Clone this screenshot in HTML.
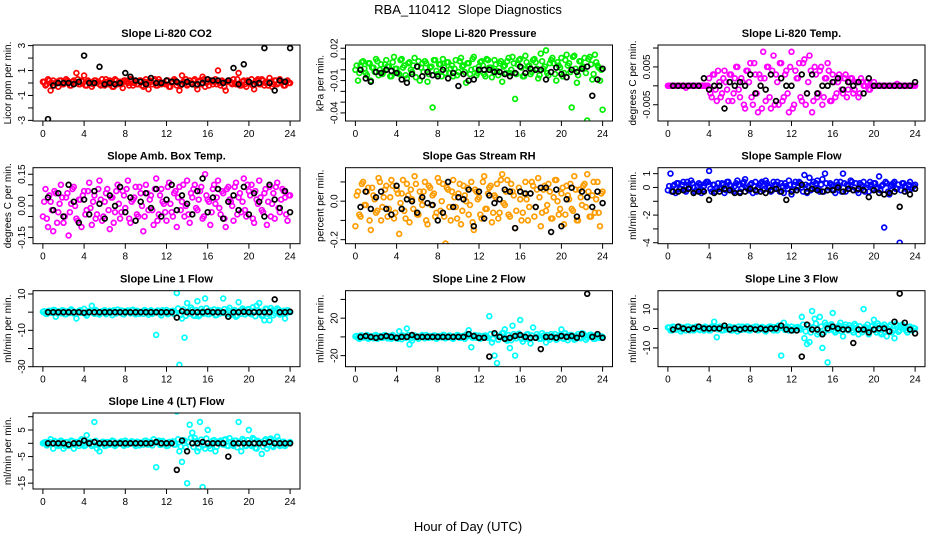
<!DOCTYPE html>
<html><head><meta charset="utf-8"><title>RBA_110412 Slope Diagnostics</title>
<style>
html,body{margin:0;padding:0;background:#fff;}
svg{display:block;font-family:"Liberation Sans",Arial,sans-serif;}
</style></head>
<body>
<svg id="chart" width="936" height="540" viewBox="0 0 936 540">
<text x="468" y="14" text-anchor="middle" font-size="13" xml:space="preserve">RBA_110412  Slope Diagnostics</text>
<text x="468" y="531" text-anchor="middle" font-size="13">Hour of Day (UTC)</text>
</svg>
<script>
const hoursC = [0,0.25,0.5,0.75,1,1.25,1.5,1.75,2,2.25,2.5,2.75,3,3.25,3.5,3.75,4,4.25,4.5,4.75,5,5.25,5.5,5.75,6,6.25,6.5,6.75,7,7.25,7.5,7.75,8,8.25,8.5,8.75,9,9.25,9.5,9.75,10,10.25,10.5,10.75,11,11.25,11.5,11.75,12,12.25,12.5,12.75,13,13.25,13.5,13.75,14,14.25,14.5,14.75,15,15.25,15.5,15.75,16,16.25,16.5,16.75,17,17.25,17.5,17.75,18,18.25,18.5,18.75,19,19.25,19.5,19.75,20,20.25,20.5,20.75,21,21.25,21.5,21.75,22,22.25,22.5,22.75,23,23.25,23.5,23.75,24];
const hoursC2 = [0.125,0.375,0.625,0.875,1.125,1.375,1.625,1.875,2.125,2.375,2.625,2.875,3.125,3.375,3.625,3.875,4.125,4.375,4.625,4.875,5.125,5.375,5.625,5.875,6.125,6.375,6.625,6.875,7.125,7.375,7.625,7.875,8.125,8.375,8.625,8.875,9.125,9.375,9.625,9.875,10.125,10.375,10.625,10.875,11.125,11.375,11.625,11.875,12.125,12.375,12.625,12.875,13.125,13.375,13.625,13.875,14.125,14.375,14.625,14.875,15.125,15.375,15.625,15.875,16.125,16.375,16.625,16.875,17.125,17.375,17.625,17.875,18.125,18.375,18.625,18.875,19.125,19.375,19.625,19.875,20.125,20.375,20.625,20.875,21.125,21.375,21.625,21.875,22.125,22.375,22.625,22.875,23.125,23.375,23.625,23.875];
const hoursB = [0.5,1,1.5,2,2.5,3,3.5,4,4.5,5,5.5,6,6.5,7,7.5,8,8.5,9,9.5,10,10.5,11,11.5,12,12.5,13,13.5,14,14.5,15,15.5,16,16.5,17,17.5,18,18.5,19,19.5,20,20.5,21,21.5,22,22.5,23,23.5,24];
const xTicks = [0,4,8,12,16,20,24];

const co2Color = [0.1,-0.2,0.3,-0.6,0.2,0,-0.3,0.2,-0.1,0.3,0.1,-0.2,0.2,0.8,-0.1,0.2,0.6,-0.2,0.1,-0.3,0.2,0,-0.1,0.3,-0.2,0.1,0.2,-0.3,0.3,-0.1,0.1,-0.4,0.2,0,0.3,-0.2,0.1,-0.1,0.2,-0.3,0.3,-0.5,0.1,0.2,-0.2,0.3,-0.1,0,0.2,-0.3,0.1,0.3,-0.2,-0.6,0.6,0.1,-0.2,0.2,-0.1,0.3,-0.5,0.2,0.5,-0.3,0.1,0.2,-0.1,0.3,1.0,-0.2,0.1,-0.6,0.2,0,0.3,-0.1,0.8,-0.2,0.2,-0.3,0.1,0.3,-0.5,0.2,-0.1,0.3,-0.2,0.1,0.4,-0.3,0.2,-0.1,0.3,0.1,-0.2,0.2,0];
const co2Color2 = [0.1,-0.1,0.2,0,-0.2,0.1,0.2,-0.1,0,0.2,-0.2,0.1,0,0.3,-0.1,0.1,-0.2,0.2,0,-0.1,0.2,0.1,-0.2,0,0.3,-0.1,0.1,-0.3,0.2,0,-0.1,0.2,0.1,-0.2,0.3,0,-0.1,0.2,-0.2,0.1,0,0.2,-0.1,0.3,-0.2,0.1,0,-0.1,0.2,-0.3,0.1,0.2,0,-0.2,0.1,0.3,-0.1,0,0.2,-0.2,0.1,-0.1,0.3,0,-0.2,0.2,0.1,-0.1,0,0.2,-0.3,0.1,0.2,-0.1,0,0.3,-0.2,0.1,-0.1,0.2,0,-0.2,0.1,0.3,-0.1,0.2,0,-0.2,0.1,-0.1,0.2,0,0.1,-0.2,0.1,0];
const co2Black = [-2.9,-0.2,0,0,0,-0.1,0.1,2.2,0,0,1.3,-0.1,0,-0.1,0,0.8,0.5,0.2,0.1,-0.1,0.4,0,0,0.2,0.1,0.1,-0.1,0.1,-0.1,-0.1,0,0.3,0.2,0.2,0,0.2,1.2,-0.1,1.5,0.1,-0.1,0,2.8,0,-0.6,0.2,0.1,2.8];
const co2Ticks = [-3,-2,-1,0,1,2,3];
const co2Labels = ["-3","-1","1","3"];

const presColor = [0.000,-0.010,0.004,0.008,-0.003,0.006,-0.010,0.002,0.010,-0.005,0.005,-0.002,0.009,0.003,-0.006,0.012,0.001,-0.004,0.010,0.004,-0.008,0.007,-0.002,0.011,0.003,-0.010,0.006,0.008,-0.011,0.002,-0.035,0.009,-0.004,0.005,0.010,-0.003,0.007,0.001,-0.006,0.009,-0.002,0.011,0.004,-0.012,0.006,0.000,0.012,-0.005,0.003,0.008,-0.004,0.010,0.002,-0.007,0.009,-0.001,0.006,-0.011,0.004,0.008,-0.003,0.012,-0.027,0.005,0.010,-0.006,0.013,0.003,-0.004,0.009,0.007,-0.008,0.015,0.001,0.018,-0.005,0.009,0.006,-0.010,0.004,0.011,-0.003,0.014,0.006,-0.035,0.013,-0.012,0.008,0.002,0.011,-0.047,0.012,-0.009,0.014,0.004,-0.010,-0.037];
const presColor2 = [0.004,-0.003,0.007,0.001,-0.005,0.006,0.002,-0.002,0.008,0.000,-0.004,0.005,0.003,-0.006,0.007,0.001,-0.003,0.009,0.002,-0.005,0.006,0.000,0.004,-0.007,0.008,0.002,-0.002,0.006,-0.004,0.003,0.009,-0.001,0.005,-0.006,0.002,0.007,-0.003,0.004,0.001,-0.005,0.008,0.003,-0.002,0.006,-0.004,0.010,0.001,-0.003,0.007,0.004,-0.006,0.009,0.002,-0.001,0.005,-0.005,0.008,0.003,-0.003,0.011,0.000,0.006,-0.004,0.009,0.002,-0.006,0.007,0.004,-0.002,0.010,0.001,-0.005,0.008,0.003,-0.003,0.006,0.011,-0.004,0.007,0.002,-0.006,0.009,0.004,-0.002,0.012,0.001,-0.005,0.008,0.003,-0.003,0.010,0.005,-0.004,0.007,0.002,0.000];
const presBlack = [0.000,-0.008,-0.011,-0.002,-0.003,0.000,-0.001,-0.003,-0.009,-0.012,-0.004,0.003,-0.006,-0.002,-0.005,-0.006,0.000,-0.008,-0.003,-0.015,-0.004,-0.010,-0.009,0.000,0.000,0.000,-0.002,-0.002,-0.004,-0.006,-0.003,0.003,-0.003,0.001,0.000,0.000,-0.009,-0.002,0.002,-0.004,-0.007,0.000,-0.002,0.001,0.003,-0.024,-0.009,0.001];
const presTicks = [-0.04,-0.03,-0.02,-0.01,0,0.01,0.02];
const presLabels = ["-0.04","-0.01","0.02"];

const tempColor = [0,0,0,0,0,0,0,-0.0005,0,0,0,0,0,0,0,0,0.002,-0.003,0.003,-0.004,0.001,-0.002,0.004,-0.001,0.003,-0.004,0.002,0.005,-0.003,0.001,-0.006,0.004,0.006,-0.005,0.003,-0.007,0.002,0.009,-0.004,0.005,-0.006,0.008,0.003,-0.005,0.006,-0.003,0.004,-0.007,0.009,-0.005,0.002,0.006,-0.004,0.007,-0.002,0.008,-0.007,0.005,-0.003,0.004,-0.005,0.002,0.006,-0.004,0.003,-0.003,0.001,0.002,-0.002,0.003,-0.001,0.002,-0.002,0.001,-0.003,0.002,0,0.001,-0.001,0,0.001,0,0,0,0,0,0,0,0,0.0005,0,0,0,0,0,0,0];
const tempColor2 = [0,0,0,0,0,0,0,0,0,0,0,0,0,0,0,0,-0.002,0.003,-0.001,0.004,-0.003,0.002,0.001,-0.004,0.003,-0.002,0.005,-0.001,0.002,-0.005,0.004,0.001,-0.003,0.006,-0.002,0.003,-0.006,0.002,0.005,-0.003,0.004,-0.005,0.001,0.006,-0.004,0.003,-0.002,0.005,-0.006,0.004,0.002,-0.003,0.006,-0.005,0.001,0.004,-0.004,0.003,-0.002,0.005,-0.003,0.002,0.004,-0.004,0.001,-0.002,0.003,-0.001,0.002,-0.003,0.001,0.002,-0.001,0.001,-0.002,0.001,0,0.001,-0.001,0,0,0,0,0,0,0,0,0,0,0,0,0,0,0,0,0];
const tempBlack = [0,0,0,0,0,0,0.002,-0.001,0,0,-0.006,0.001,0,0.001,0,0.003,-0.002,0,-0.001,0.003,-0.004,0.002,0,0,-0.011,0.003,-0.002,0.003,-0.002,0,0,0.001,0.002,-0.001,0.001,0,0.001,-0.002,0.002,0,0,0,0,0,0,0,0,0.001];
const tempTicks = [-0.005,0,0.005,0.01];
const tempLabels = ["-0.005","0.005"];

const ambColor = [-0.05,0.08,-0.1,0.02,-0.12,0.06,-0.03,0.1,-0.08,0.04,-0.14,0.01,0.09,-0.06,0.03,-0.1,0.07,-0.02,0.11,-0.09,0.05,-0.04,0.12,-0.07,0.02,0.08,-0.11,0.04,-0.03,0.1,-0.06,0.07,-0.01,0.12,-0.08,0.03,0.09,-0.05,0.06,-0.12,0.1,-0.02,0.05,-0.09,0.13,-0.04,0.08,0.01,-0.07,0.11,-0.03,0.06,-0.1,0.09,0.02,-0.05,0.12,-0.08,0.04,0.1,-0.02,0.07,-0.06,0.15,0.03,-0.09,0.08,0.01,0.12,-0.04,0.06,-0.1,0.09,0.02,-0.07,0.11,0.04,-0.03,0.13,-0.05,0.07,0.1,-0.08,0.03,0.12,-0.02,0.06,-0.09,0.09,0.01,-0.06,0.11,-0.03,0.08,0.04,-0.07,0.05];
const ambColor2 = [0.02,-0.06,0.05,-0.02,0.07,-0.08,0.01,0.04,-0.05,0.06,-0.03,0.08,0,-0.07,0.03,0.05,-0.04,0.07,-0.01,0.02,-0.06,0.08,0.03,-0.05,0.06,-0.02,0.04,-0.08,0.07,0.01,-0.03,0.05,0.08,-0.06,0.02,0.04,-0.04,0.09,0,-0.05,0.06,0.03,-0.02,0.08,-0.07,0.05,0.02,-0.03,0.09,0.01,-0.05,0.07,0.04,-0.02,0.1,0,-0.04,0.06,0.08,-0.01,0.03,0.09,-0.05,0.05,0.02,-0.03,0.1,0.04,-0.01,0.07,-0.06,0.08,0.03,0,0.09,-0.04,0.06,0.02,-0.02,0.1,0.05,-0.06,0.07,0.01,0.04,-0.03,0.08,0.02,-0.05,0.06,0.09,-0.01,0.03,0.07,-0.04,0.05];
const ambBlack = [0.04,-0.02,0.06,-0.05,0.1,0.02,-0.08,0.03,-0.04,0.07,0.01,-0.06,0.05,0,0.09,-0.03,0.04,-0.07,0.02,0.06,-0.01,0.08,-0.05,0.03,0.1,-0.02,0.05,0.01,-0.04,0.07,0.13,-0.03,0.04,0.08,-0.06,0.02,0.05,-0.02,0.09,-0.04,0.06,0.02,-0.05,0.1,0.03,-0.01,0.07,-0.03];
const ambTicks = [-0.15,-0.1,-0.05,0,0.05,0.1,0.15];
const ambLabels = ["-0.15","0.00","0.15"];

const rhColor = [-0.13,0.05,-0.08,0.1,-0.02,0.07,-0.15,0.03,-0.06,0.12,-0.1,0.02,0.08,-0.04,0.11,-0.09,0.06,-0.17,0.04,-0.05,0.09,-0.11,0.01,0.13,-0.07,0.05,-0.02,0.1,-0.12,0.07,0.03,-0.08,0.12,-0.05,0.09,-0.22,0.06,-0.1,0.11,-0.03,0.04,-0.12,0.08,0,-0.07,0.1,-0.15,0.05,0.02,-0.09,0.13,-0.04,0.07,-0.11,0.03,0.09,-0.06,0.14,-0.02,0.11,-0.08,0.05,-0.14,0.19,0.01,-0.06,0.1,-0.1,0.04,0.08,-0.03,0.12,-0.13,0.06,-0.05,0.09,-0.09,0.02,0.11,-0.07,0.04,-0.12,0.08,0.01,-0.04,0.13,-0.1,0.06,-0.02,0.09,0.14,-0.08,0.03,-0.06,0.1,-0.13,0.05];
const rhColor2 = [0.03,-0.07,0.09,-0.02,0.05,-0.1,0.07,0.01,-0.05,0.1,-0.03,0.06,-0.08,0.02,0.08,-0.06,0.04,-0.01,0.11,-0.09,0.03,0.06,-0.04,0.09,-0.07,0.01,0.05,-0.1,0.08,-0.02,0.04,-0.06,0.1,0,-0.08,0.07,-0.03,0.05,0.02,-0.09,0.09,-0.05,0.03,0.07,-0.02,-0.11,0.06,0.01,-0.07,0.1,-0.04,0.04,0.08,-0.06,0.02,-0.09,0.11,-0.01,0.05,-0.07,0.09,0.03,-0.05,0.07,-0.1,0.04,0.01,-0.03,0.1,-0.08,0.06,0.02,-0.06,0.08,-0.02,0.05,-0.09,0.11,0,-0.04,0.07,-0.07,0.03,0.09,-0.05,0.06,-0.1,0.02,0.08,-0.03,0.05,-0.08,0.1,0.01,-0.06,0.04];
const rhBlack = [-0.03,0.05,-0.04,0.02,0.05,-0.04,-0.07,0.08,-0.04,0.01,0.0,-0.06,0.02,-0.01,-0.02,-0.1,-0.06,0.1,-0.03,0.02,0.01,0.06,-0.13,0.05,-0.09,0.03,-0.01,0.01,0.06,0.05,-0.14,0.05,0.04,0.04,-0.03,0.07,0.07,-0.16,0.06,-0.13,0.01,0.07,-0.08,0.05,0.02,-0.03,0.05,-0.01];
const rhTicks = [-0.2,-0.1,0,0.1];
const rhLabels = ["-0.2","0.0"];

const sampColor = [-0.2,1.0,0.1,-0.4,0.3,-0.1,0.4,-0.3,0.2,0.5,0,-0.2,0.3,-0.4,0.1,0.4,1.2,-0.3,0.2,0,-0.1,0.3,-0.4,0.4,0.2,-0.2,0.1,0.5,-0.3,0.3,0.6,-0.1,0.2,-0.4,0.4,0,0.3,-0.2,0.5,0.1,-0.3,0.4,0.2,-0.1,0.3,-0.4,0.1,0.5,-0.5,0.2,-0.2,0.4,0,0.9,-0.4,0.7,0.2,-0.1,0.5,-0.3,0.6,1.0,-0.2,0.3,0.1,-0.4,0.2,0.4,1.0,-0.3,0.1,0.5,-0.2,0.3,-0.4,0.2,0.4,0,-0.3,0.2,0.3,-0.1,0.8,0.1,-2.9,0.3,-0.5,0.2,0.4,-0.1,-4.0,0.3,0.1,-0.2,0.4,0,0.2];
const sampColor2 = [0.1,-0.3,0.2,0.3,-0.1,0.2,-0.2,0.4,0,0.3,-0.3,0.1,0.2,-0.2,0.3,0.4,-0.1,0.2,-0.3,0.3,0,0.2,-0.2,0.4,0.1,-0.3,0.3,0.2,-0.1,0.4,0,-0.2,0.3,0.1,-0.3,0.2,0.4,-0.1,0.3,0,-0.2,0.2,0.4,-0.3,0.1,0.3,-0.1,0.2,-0.2,0.4,0,0.3,-0.3,0.2,0.1,-0.2,0.4,0.3,-0.1,0.2,-0.3,0.3,0,0.2,-0.2,0.4,0.1,-0.3,0.3,0.2,-0.1,0.4,0,-0.2,0.3,0.1,-0.3,0.2,0.4,-0.1,0.3,0,-0.2,0.2,0.4,-0.3,0.1,0.3,-0.1,0.2,-0.2,0.3,0,0.2,-0.1,0.1];
const sampBlack = [-0.3,-0.3,-0.2,-0.1,-0.4,-0.3,-0.3,-0.9,-0.4,-0.3,-0.1,-0.2,-0.4,-0.4,-0.3,-0.1,-0.2,-0.3,-0.4,-0.2,-0.1,-0.3,-0.9,-0.3,-0.2,0.2,-0.3,-0.1,-0.2,-0.3,-0.2,-0.2,0,-0.3,-0.1,-0.2,-0.1,-0.2,-0.7,-0.2,-0.4,-0.5,-0.4,-0.3,-1.4,-0.3,-0.5,-0.1];
const sampTicks = [-4,-3,-2,-1,0,1];
const sampLabels = ["-4","-2","0","1"];

const l1Color = [0.2,-0.8,0.5,-0.3,1.2,-2.5,0.4,-0.6,0.9,-1.1,0.3,1.5,-0.7,-3.5,0.6,-0.4,1.8,-1.9,0.2,3.5,-0.9,0.7,-1.3,0.4,1.1,-0.5,0.8,-1.6,0.3,1.4,-0.2,-1.0,0.6,0.9,-0.7,1.3,-1.2,0.4,0.1,-0.9,0.7,-1.4,1.0,-0.3,-12.5,0.8,-1.8,0.5,1.2,-0.6,0.3,-1.0,10.5,-29,-3.5,-14,5.0,-0.8,1.5,-2.0,6.0,-1.5,0.5,7.5,-1.1,0.9,-0.4,-1.7,1.2,-0.6,7.5,-0.3,1.0,-1.5,0.6,-2.5,5.5,-0.9,1.3,-0.2,1.6,-1.2,0.7,3.5,5.0,-2.0,-4.5,1.8,-4.5,0.9,-0.5,2.0,-1.3,0.4,-3.5,1.1,0];
const l1Color2 = [0.5,-1,0.8,-0.3,1.2,-0.6,0.2,1,-1.2,0.4,-0.5,0.9,-0.8,0.3,1.1,-0.2,-1,0.6,0.8,-0.4,1.2,-0.9,0.1,0.7,-1.1,0.5,-0.3,1,-0.7,0.2,0.9,-1.2,0.4,-0.1,1.1,-0.6,0.8,-0.9,0.3,1.2,-0.4,0.6,-1,0.2,0.9,-0.7,1.1,-0.2,-1.2,0.5,0.8,-0.5,2,-1.5,1.5,-2,0.6,2.5,-1.8,1,-2.2,1.8,-0.8,2.2,-1.2,0.5,1.5,-1.6,0.9,-0.4,1.7,-1.1,2.4,-0.6,1.2,-1.9,0.7,2,-1.3,1.5,-0.8,2.6,-2.2,1.1,0.4,-1.5,1.9,-0.9,2.3,-1.7,0.6,1.4,-1,0.8,-0.5,0.3];
const l1Black = [0,0,0,0,0,0,0,-0.3,0,0,0,0,0,0,0,0,0,0,0,0,0,0,0,0,0,-3,0.5,0,0,0,0,0.3,0,0,0,-2.5,0,0,0.2,0,0,0,0,0,7,0,0,0.2];
const l1Ticks = [-30,-20,-10,0,10];
const l1Labels = ["-30","-10","10"];

const l2Color = [0.5,-1,1.5,-0.5,1,-2,0.5,-1.5,2,0,-1,1.5,-0.5,1,-2,0.5,-1.5,6,-2.5,1,9,-8,-4,1.5,-1,0.5,2,-1.5,0,1,-0.5,1.5,-1,0.5,2,-1.5,0,1,-2,0.5,1.5,-1,0.5,2.5,7,-11,0.5,-1,1.5,-0.5,1,0,22,-6,-20,-28,1,4,8,-4,-12,12,-20,1.5,18,-5,-2,3,-7,10,-1,0.5,-2,1.5,-6,-1,3,0.5,-3,1,8,-2,1.5,-0.5,2,-3,0.5,-1,4,1.5,-1,2,0.5,-2,1,-1,0];
const l2Color2 = [1,-2,1.5,-0.5,2,-1,0.5,1.5,-2,1,-1,2,-1.5,0.5,2,-0.5,-2,1,1.5,-1,2,-1.5,0.5,1,-2,1,-0.5,2,-1,0.5,1.5,-2,1,-0.5,2,-1,1.5,-1.5,0.5,2,-1,1,-2,0.5,1.5,-1,2,-0.5,-2,1,1.5,-1,3,-2,2.5,-3,1,4,-3,2,-3.5,3,-1.5,3.5,-2,1,2.5,-2.5,1.5,-1,3,-2,4,-1,2,-3,1,3,-2,2.5,-1.5,4,-3.5,2,1,-2.5,3,-1.5,3.5,-3,1,2.5,-2,1.5,-1,0.5];
const l2Black = [0,1,0,-1,0,1,0,-1,0,0,2,0,0,0,0,0,0,0,0,0,0,3,1,-1,-1,-21,4,0,-2,-1,1,2,0,-1,-1,-13,0,0,-1,1,0,1,-1,3,46,0,3,-1];
const l2Ticks = [-20,0,20,40];
const l2Labels = ["-20","20"];

const l3Color = [0.5,-1,1,-0.5,0.5,-1.5,0.5,-1,1,0,-1,1,-0.5,0.5,-1,0.5,-1,1,3.5,-4.5,1,-1,0.5,-0.5,1,-1,0.5,-1.5,0,1,-0.5,1,-1,0.5,1,-1,0,0.5,-1.5,0.5,1,-1,0.5,1.5,-14,3,0.5,-1,1,-0.5,0.5,0,6,-5,-8,-7,9,5,-3,6,-10,3,-17.5,1.5,8,-2,-1,3,-4,2,-1,0.5,-2,1.5,-3,-1,10,0.5,-3,1,4.5,-2,1.5,-3,2,-4,1,-2,-5,1.5,-1,2,0.5,-2,1,-1,0];
const l3Color2 = [0.5,-1,0.8,-0.5,1,-0.5,0.3,1,-1,0.5,-0.5,0.9,-0.8,0.3,1,-0.2,-1,0.6,0.8,-0.4,1,-0.9,0.1,0.7,-1,0.5,-0.3,1,-0.7,0.2,0.9,-1,0.4,-0.1,1,-0.6,0.8,-0.9,0.3,1,-0.4,0.6,-1,0.2,0.9,-0.7,1,-0.2,-1,0.5,0.8,-0.5,2,-1.5,1.5,-2,0.6,2.5,-1.8,1,-2.2,1.8,-0.8,2.2,-1.2,0.5,1.5,-1.6,0.9,-0.4,1.7,-1.1,2.4,-0.6,1.2,-1.9,0.7,2,-1.3,1.5,-0.8,2.6,-2.2,1.1,0.4,-1.5,1.9,-0.9,2.3,-1.7,0.6,1.4,-1,0.8,-0.5,0.3];
const l3Black = [-0.5,1,0,-0.5,0,1,0,0,0,0,1.5,-0.5,0,-0.5,0,0,-0.5,0,-0.5,0,0,1.5,-0.5,-1,-1,-14.5,2,-0.5,-0.5,-3,0,1,0,-0.5,-0.5,-7.5,-0.5,-0.5,-2,-0.5,0,0,-1.5,3.5,18,3,-0.5,-2.5];
const l3Ticks = [-10,0,10];
const l3Labels = ["-10","0","10"];

const l4Color = [0,0.5,-0.5,1.5,-2,0.5,-1,1,-2,0.5,-1,1,-2,0.5,-1,1.5,-1,3,0.5,-1,8,-2,-3,0.5,-1,0.5,-0.5,1,-1,0,0.5,-0.5,1,-0.5,0,0.5,-1,0.5,0,-0.5,1,-0.5,0.5,1.5,-9,1,-0.5,0.5,-1,0.5,0,-0.5,12,-3,-7,1,-15,7,4,2,-3,8,-16.5,-2,5,-2,1,-3,0.5,1,-0.5,1.5,-1,0.5,-1,1,8,-3,1,-1,5,-1,1.5,-2,0.5,-4,1,-2,1.5,-1,0.5,2.5,-1,0.5,-1,0,0.5];
const l4Color2 = [0.3,-0.8,0.5,-0.3,0.9,-0.6,0.2,0.7,-0.9,0.4,-0.5,0.8,-0.6,0.3,0.9,-0.2,-0.8,0.5,0.6,-0.4,0.9,-0.7,0.1,0.6,-0.9,0.4,-0.3,0.8,-0.6,0.2,0.7,-0.9,0.4,-0.1,0.8,-0.5,0.6,-0.8,0.3,0.9,-0.4,0.5,-0.8,0.2,0.7,-0.6,0.9,-0.2,-0.9,0.5,0.7,-0.5,1.5,-1.2,1.2,-1.6,0.5,2,-1.4,0.8,-1.8,1.4,-0.7,1.8,-1,0.4,1.2,-1.3,0.7,-0.3,1.3,-0.9,1.9,-0.5,1,-1.5,0.6,1.6,-1,1.2,-0.6,2,-1.8,0.9,0.3,-1.2,1.5,-0.7,1.8,-1.4,0.5,1.1,-0.8,0.6,-0.4,0.2];
const l4Black = [0,0,0,0,-0.5,0,0,1,0,0.5,0,0,0,0,0,0,0,0,0,0,0,0.5,0,0,0,-10,1,-3,0,0,0.5,0,0,0,0,-5,0,0,0,0,0,0,0,0.5,0,0,0,0];
const l4Ticks = [-15,-10,-5,0,5,10];
const l4Labels = ["-15","-5","5"];

const panels = [
 {key:"co2",col:0,row:0,title:"Slope Li-820 CO2",ylab:"Licor ppm per min.",dom:[-3.05,3.05],ticks:co2Ticks,labels:co2Labels,color:"#ff0000",cv:co2Color,cv2:co2Color2,bv:co2Black},
 {key:"pressure",col:1,row:0,title:"Slope Li-820 Pressure",ylab:"kPa per min.",dom:[-0.0475,0.023],ticks:presTicks,labels:presLabels,color:"#00ee00",cv:presColor,cv2:presColor2,bv:presBlack},
 {key:"temp",col:2,row:0,title:"Slope Li-820 Temp.",ylab:"degrees C per min.",dom:[-0.0093,0.0108],ticks:tempTicks,labels:tempLabels,color:"#ff00ff",cv:tempColor,cv2:tempColor2,bv:tempBlack},
 {key:"amb-temp",col:0,row:1,title:"Slope Amb. Box Temp.",ylab:"degrees C per min.",dom:[-0.179,0.181],ticks:ambTicks,labels:ambLabels,color:"#ff00ff",cv:ambColor,cv2:ambColor2,bv:ambBlack},
 {key:"gas-rh",col:1,row:1,title:"Slope Gas Stream RH",ylab:"percent per min.",dom:[-0.221,0.174],ticks:rhTicks,labels:rhLabels,color:"#ff9c00",cv:rhColor,cv2:rhColor2,bv:rhBlack},
 {key:"sample-flow",col:2,row:1,title:"Slope Sample Flow",ylab:"ml/min per min.",dom:[-4.07,1.43],ticks:sampTicks,labels:sampLabels,color:"#0000ff",cv:sampColor,cv2:sampColor2,bv:sampBlack},
 {key:"line1",col:0,row:2,title:"Slope Line 1 Flow",ylab:"ml/min per min.",dom:[-30,11.8],ticks:l1Ticks,labels:l1Labels,color:"#00ffff",cv:l1Color,cv2:l1Color2,bv:l1Black},
 {key:"line2",col:1,row:2,title:"Slope Line 2 Flow",ylab:"ml/min per min.",dom:[-31.8,49.3],ticks:l2Ticks,labels:l2Labels,color:"#00ffff",cv:l2Color,cv2:l2Color2,bv:l2Black},
 {key:"line3",col:2,row:2,title:"Slope Line 3 Flow",ylab:"ml/min per min.",dom:[-19.7,19.5],ticks:l3Ticks,labels:l3Labels,color:"#00ffff",cv:l3Color,cv2:l3Color2,bv:l3Black},
 {key:"line4",col:0,row:3,title:"Slope Line 4 (LT) Flow",ylab:"ml/min per min.",dom:[-17.2,11.4],ticks:l4Ticks,labels:l4Labels,color:"#00ffff",cv:l4Color,cv2:l4Color2,bv:l4Black}
];

const NS = "http://www.w3.org/2000/svg";
const svg = document.getElementById("chart");
function mk(tag, attrs, parent){
  const e = document.createElementNS(NS, tag);
  for (const k in attrs) e.setAttribute(k, attrs[k]);
  (parent||svg).appendChild(e);
  return e;
}
const colLeft = [33, 345.5, 658], boxW = 267, rowTop = [45, 167.7, 290.7, 413], boxH = 76;

panels.forEach(p => {
  const L = colLeft[p.col], T = rowTop[p.row], R = L + boxW, B = T + boxH;
  const g = mk("g", {});
  
  
  const xs = h => L + (h + 0.96) / 25.92 * boxW;
  const ys = v => B - (v - p.dom[0]) / (p.dom[1] - p.dom[0]) * boxH;

  const clip = mk("clipPath", {id: "clip-" + p.key}, g);
  mk("rect", {x: L, y: T, width: boxW, height: boxH}, clip);
  const pts = mk("g", {"clip-path": "url(#clip-" + p.key + ")"}, g);
  
  
  const n2 = Math.min(hoursC2.length, p.cv2.length);
  for (let i = 0; i < n2; i++) {
    const c = mk("circle", {cx: xs(hoursC2[i]).toFixed(1), cy: ys(p.cv2[i]).toFixed(1), r: 2.4, fill: "none", stroke: p.color, "stroke-width": 1.7}, pts);
    
    
  }
  const n = Math.min(hoursC.length, p.cv.length);
  for (let i = 0; i < n; i++) {
    const c = mk("circle", {cx: xs(hoursC[i]).toFixed(1), cy: ys(p.cv[i]).toFixed(1), r: 2.4, fill: "none", stroke: p.color, "stroke-width": 1.7}, pts);
    
    
  }
  const nb = Math.min(hoursB.length, p.bv.length);
  for (let i = 0; i < nb; i++) {
    const c = mk("circle", {cx: xs(hoursB[i]).toFixed(1), cy: ys(p.bv[i]).toFixed(1), r: 2.4, fill: "none", stroke: "#000", "stroke-width": 1.7}, pts);
    
    
  }

  const box = mk("rect", {x: L, y: T, width: boxW, height: boxH, fill: "none", stroke: "#000", "stroke-width": 1}, g);
  
  

  const tt = mk("text", {x: (L + R) / 2, y: T - 8, "text-anchor": "middle", "font-size": 11, "font-weight": "bold"}, g);
  tt.textContent = p.title;
  
  

  xTicks.forEach(t => {
    const x = xs(t);
    mk("line", {x1: x, x2: x, y1: B, y2: B + 5, stroke: "#000"}, g);
    const lb = mk("text", {x: x, y: B + 16, "text-anchor": "middle", "font-size": 10}, g);
    lb.textContent = t;
    
    
  });
  p.ticks.forEach(t => {
    const y = ys(t);
    mk("line", {x1: L - 5, x2: L, y1: y, y2: y, stroke: "#000"}, g);
  });
  p.labels.forEach(t => {
    const y = ys(parseFloat(t));
    const lb = mk("text", {x: L - 8, y: y, "text-anchor": "middle", "font-size": 10, transform: "rotate(-90 " + (L - 8) + " " + y.toFixed(1) + ")"}, g);
    lb.textContent = t;
    
    
  });
  const yl = mk("text", {x: L - 22, y: (T + B) / 2, "text-anchor": "middle", "font-size": 10, transform: "rotate(-90 " + (L - 22) + " " + ((T + B) / 2) + ")"}, g);
  yl.textContent = p.ylab;
  
  
});
</script>
</body></html>
